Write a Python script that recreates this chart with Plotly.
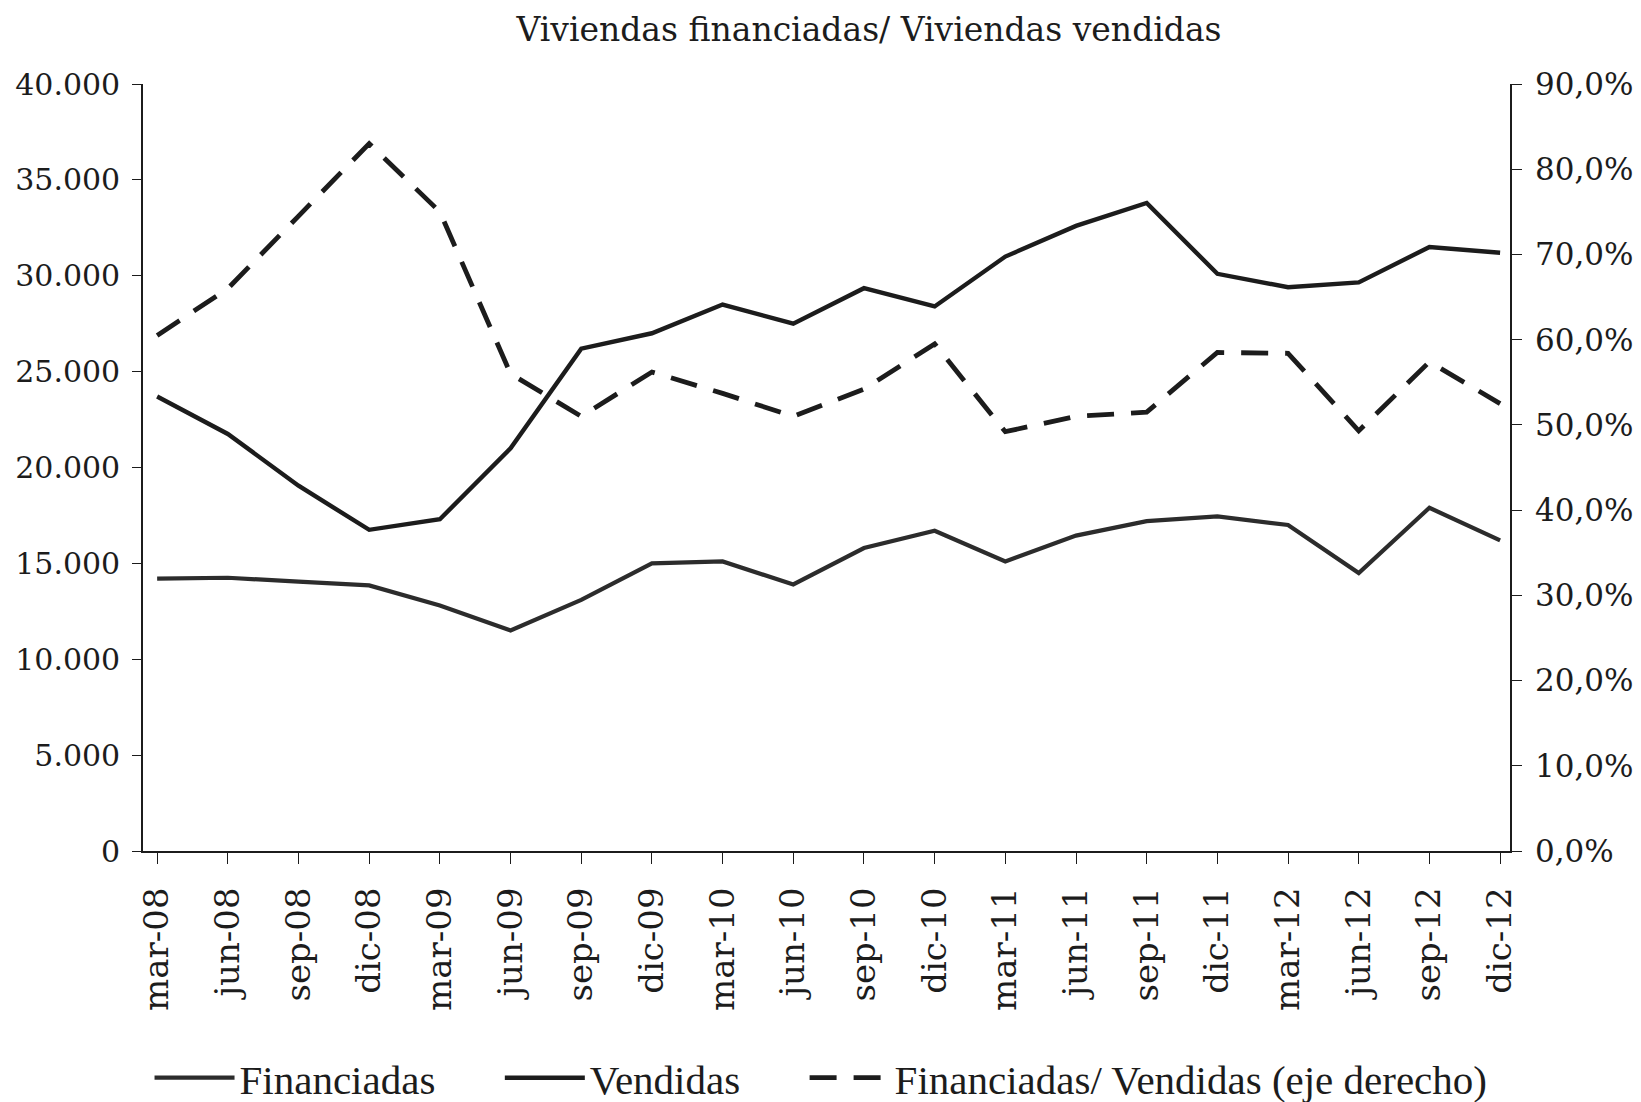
import plotly.graph_objects as go

categories = ["mar-08", "jun-08", "sep-08", "dic-08", "mar-09", "jun-09", "sep-09", "dic-09",
              "mar-10", "jun-10", "sep-10", "dic-10", "mar-11", "jun-11", "sep-11", "dic-11",
              "mar-12", "jun-12", "sep-12", "dic-12"]

financiadas = [14200, 14250, 14050, 13850, 12800, 11500, 13100, 15000,
               15100, 13900, 15800, 16700, 15100, 16450, 17200, 17450,
               17000, 14500, 17900, 16200]

vendidas = [23700, 21750, 19050, 16750, 17300, 21000, 26200, 27000,
            28500, 27500, 29350, 28400, 31000, 32600, 33800, 30100,
            29400, 29650, 31500, 31200]

ratio = [0.605, 0.660, 0.745, 0.830, 0.750, 0.560, 0.510, 0.562,
         0.537, 0.510, 0.542, 0.595, 0.492, 0.510, 0.515, 0.585,
         0.584, 0.493, 0.574, 0.525]

left_ticks = [0, 5000, 10000, 15000, 20000, 25000, 30000, 35000, 40000]
right_ticks = [0.0, 0.1, 0.2, 0.3, 0.4, 0.5, 0.6, 0.7, 0.8, 0.9]

FONT = "DejaVu Serif"
LEG_FONT = "Liberation Serif"
INK = "#1c1c1c"
PAD = "\u00a0" * 5 + "\u2009"

fig = go.Figure()
fig.add_trace(go.Scatter(x=categories, y=financiadas, mode="lines", name="Financiadas" + PAD,
                         line=dict(color="#2c2c2c", width=4.2)))
fig.add_trace(go.Scatter(x=categories, y=vendidas, mode="lines", name="Vendidas" + PAD,
                         line=dict(color=INK, width=4.4)))
fig.add_trace(go.Scatter(x=categories, y=ratio, mode="lines", yaxis="y2",
                         name="Financiadas/ Vendidas (eje derecho)",
                         line=dict(color=INK, width=4.8, dash="27px,17px")))

axis_common = dict(showline=True, linecolor=INK, linewidth=1.6, ticks="outside",
                   tickcolor=INK, tickwidth=1.3, showgrid=False, zeroline=False)

fig.update_layout(
    width=1641, height=1102,
    paper_bgcolor="white", plot_bgcolor="white",
    separators=",.",
    font=dict(family=FONT, size=30, color=INK),
    margin=dict(l=135, r=139, t=76, b=259, autoexpand=False),
    title=dict(text="Viviendas financiadas/ Viviendas vendidas", x=861 / 1641, xanchor="center",
               y=1 - 21 / 1102, yanchor="middle", font=dict(family=FONT, size=33, color=INK)),
    xaxis=dict(type="category", range=[-0.2, 19.14], tickangle=-90,
               ticklen=11, ticklabelstandoff=10, tickfont=dict(size=34), **axis_common),
    yaxis=dict(range=[0, 40000], tickvals=left_ticks, tickformat=",d",
               ticklen=9, ticklabelstandoff=6, tickfont=dict(size=30), **axis_common),
    yaxis2=dict(range=[0, 0.9], tickvals=right_ticks, tickformat=".1%",
                overlaying="y", side="right",
                ticklen=10, ticklabelstandoff=7, tickfont=dict(size=31), **axis_common),
    legend=dict(orientation="h", x=0.496, xanchor="center", y=-0.296, yanchor="middle",
                font=dict(family=LEG_FONT, size=41, color=INK), itemwidth=80,
                bgcolor="rgba(0,0,0,0)"),
    showlegend=True,
)

fig.write_html("out.html")
